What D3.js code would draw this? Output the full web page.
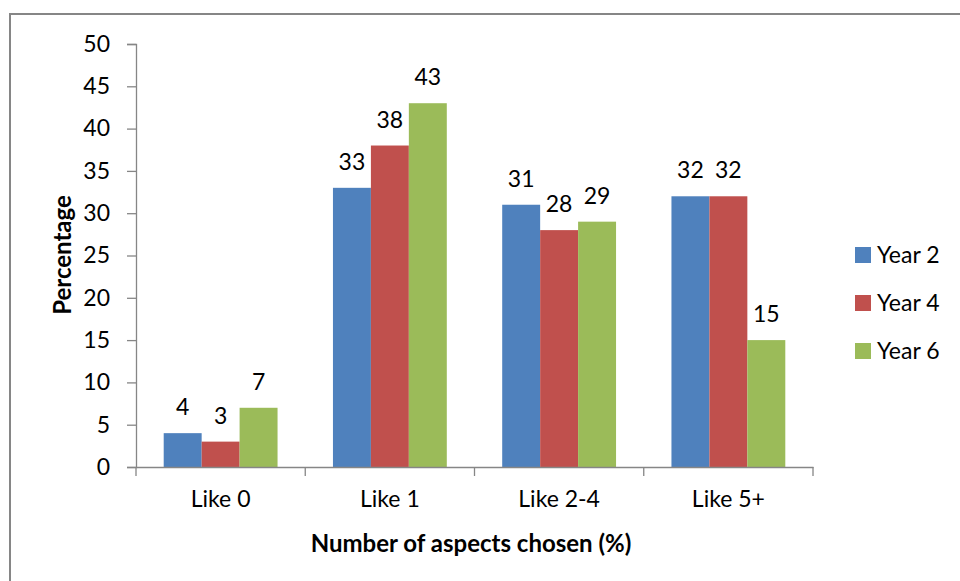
<!DOCTYPE html>
<html>
<head>
<meta charset="utf-8">
<script src="https://cdn.jsdelivr.net/npm/d3@7"></script>
<style>
  html, body { margin: 0; padding: 0; background: #fff; }
  svg { display: block; }
  text { font-family: Lato, "Open Sans", sans-serif; fill: #000; }
</style>
</head>
<body>
<svg id="chart" width="960" height="581"></svg>
<script>
const categories = ["Like 0", "Like 1", "Like 2-4", "Like 5+"];
const seriesNames = ["Year 2", "Year 4", "Year 6"];
const year2 = [4, 33, 31, 32];
const year4 = [3, 38, 28, 32];
const year6 = [7, 43, 29, 15];
const seriesValues = [year2, year4, year6];
const colors = ["#4F81BD", "#C0504D", "#9BBB59"];
const yTicks = [0, 5, 10, 15, 20, 25, 30, 35, 40, 45, 50];

const svg = d3.select("#chart");

// outer chart border
svg.append("rect")
  .attr("x", 10).attr("y", 14)
  .attr("width", 960).attr("height", 600)
  .attr("fill", "#fff")
  .attr("stroke", "#868686").attr("stroke-width", 2);

const plot = { left: 136, right: 813, top: 44, bottom: 467 };

const x = d3.scaleBand().domain(categories)
  .range([plot.left, plot.right]).paddingInner(0).paddingOuter(0);
const inner = d3.scaleBand().domain(seriesNames)
  .range([0, x.bandwidth()]).paddingInner(0).paddingOuter(0.73);
const y = d3.scaleLinear().domain([0, 50]).range([plot.bottom, plot.top]);

// y axis
const yAxis = svg.append("g")
  .attr("transform", `translate(${plot.left},0)`)
  .call(d3.axisLeft(y).tickValues(yTicks).tickSize(9).tickPadding(17).tickFormat(d3.format("d")));
yAxis.select(".domain").attr("stroke", "#868686").attr("stroke-width", 1.3);
yAxis.selectAll(".tick line").attr("stroke", "#868686").attr("stroke-width", 1.3);
yAxis.selectAll(".tick text").attr("font-size", 23).attr("font-family", "Lato").attr("fill", "#000");

// bars
const groups = svg.append("g").selectAll("g")
  .data(categories).join("g")
  .attr("transform", d => `translate(${x(d)},0)`);

groups.selectAll("rect")
  .data((d, i) => seriesNames.map((s, j) => ({ s, v: seriesValues[j][i], j })))
  .join("rect")
  .attr("x", d => inner(d.s))
  .attr("width", inner.bandwidth())
  .attr("y", d => y(d.v))
  .attr("height", d => y(0) - y(d.v))
  .attr("fill", d => colors[d.j]);

groups.selectAll("text.val")
  .data((d, i) => seriesNames.map((s, j) => ({ s, v: seriesValues[j][i], j })))
  .join("text")
  .attr("class", "val")
  .attr("x", d => inner(d.s) + inner.bandwidth() / 2)
  .attr("y", d => y(d.v) - 18)
  .attr("text-anchor", "middle")
  .attr("font-size", 23)
  .text(d => d.v);

// x axis
const xAxis = svg.append("g")
  .attr("transform", `translate(0,${plot.bottom})`)
  .call(d3.axisBottom(x).tickSize(0).tickPadding(24));
xAxis.select(".domain").attr("stroke", "#868686").attr("stroke-width", 1.3);
xAxis.selectAll(".tick text").attr("font-size", 23).attr("font-family", "Lato").attr("fill", "#000");
// category boundary ticks
const bounds = categories.map(c => x(c)).concat([x(categories[categories.length - 1]) + x.bandwidth()]);
xAxis.selectAll("line.bound").data(bounds).join("line")
  .attr("class", "bound")
  .attr("x1", d => d).attr("x2", d => d)
  .attr("y1", 0).attr("y2", 9)
  .attr("stroke", "#868686").attr("stroke-width", 1.3);

// axis titles
svg.append("text")
  .attr("transform", `translate(71,255) rotate(-90)`)
  .attr("text-anchor", "middle")
  .attr("font-size", 24).attr("font-weight", "bold")
  .text("Percentage");

svg.append("text")
  .attr("x", 471).attr("y", 552)
  .attr("text-anchor", "middle")
  .attr("font-size", 24).attr("font-weight", "bold")
  .text("Number of aspects chosen (%)");

// legend
const legend = svg.append("g").attr("transform", "translate(855,247)");
const li = legend.selectAll("g").data(seriesNames).join("g")
  .attr("transform", (d, i) => `translate(0,${i * 48})`);
li.append("rect").attr("width", 16).attr("height", 16)
  .attr("fill", (d, i) => colors[i]);
li.append("text").attr("x", 22).attr("y", 16)
  .attr("font-size", 23).text(d => d);
</script>
</body>
</html>
